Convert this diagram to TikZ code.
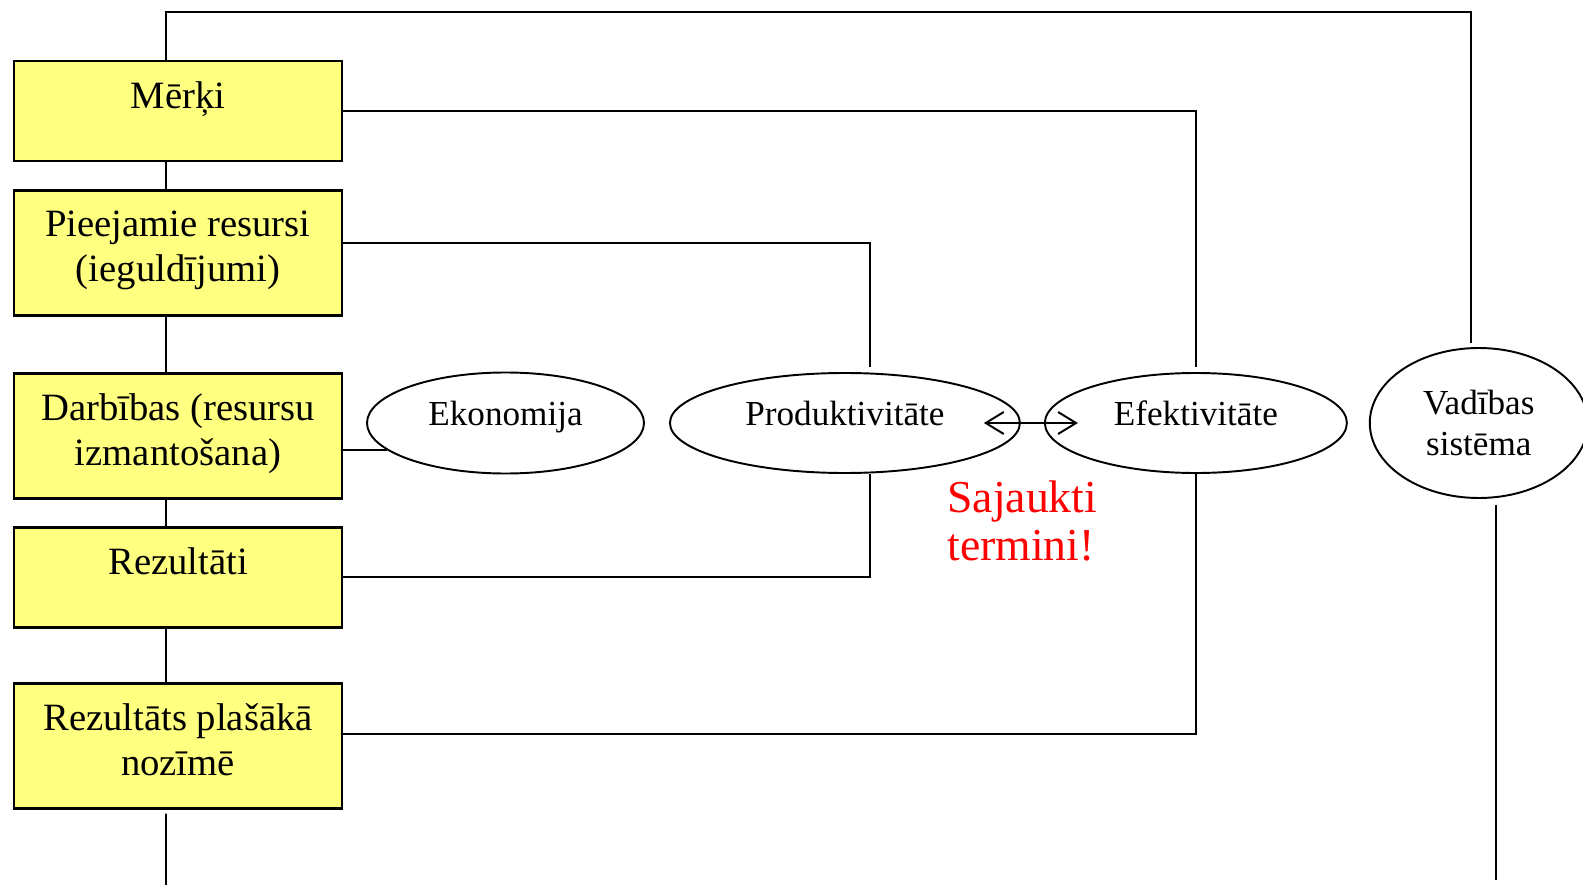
\documentclass[tikz,border=0pt]{standalone}
\usepackage{fontspec}
\setmainfont{Liberation Serif}
\usepackage{tikz}
\usetikzlibrary{shapes.geometric,arrows.meta,positioning}
\definecolor{boxyellow}{RGB}{255,255,128}
\tikzstyle{box} = [rectangle, minimum width=6.56cm, draw=black, line width=1.6pt, fill=boxyellow]
\tikzstyle{boxtext} = [anchor=north, yshift=-4.3mm, inner sep=0pt, align=center, font=\fontsize{22}{25.6}\selectfont]
\tikzstyle{oval} = [ellipse, minimum height=2cm, draw=black, line width=1.1pt, inner sep=1pt, align=center, font=\fontsize{20}{22.8}\selectfont]
\tikzstyle{oneline} = [text height=14pt, text depth=11.5pt]
\tikzstyle{link} = [line width=1.1pt]
\tikzstyle{dbl} = [line width=1.1pt, {Straight Barb[length=3.6mm,width=4.4mm]}-{Straight Barb[length=3.6mm,width=4.4mm]}]
\tikzstyle{warn} = [text=red, align=left, inner sep=0pt, font=\fontsize{26}{27.5}\selectfont]

\begin{document}
\begin{tikzpicture}
				\useasboundingbox (0,0) rectangle (31.66,-17.7);
				\node (merki) [box, minimum height=2cm, label={[boxtext]north:{Mērķi}}] at (3.56,-2.22) {};
				\node (pieejamie) [box, minimum height=2.5cm, below = 0.54cm of merki, label={[boxtext]north:{Pieejamie resursi\\(ieguldījumi)}}] {};
				\node (darbibas) [box, minimum height=2.5cm, below = 1.1cm of pieejamie, label={[boxtext]north:{Darbības (resursu\\izmantošana)}}] {};
				\node (rezultati) [box, minimum height=2cm, below = 0.52cm of darbibas, label={[boxtext]north:{Rezultāti}}] {};
				\node (rezultats) [box, minimum height=2.5cm, below = 1.06cm of rezultati, label={[boxtext]north:{Rezultāts plašākā\\nozīmē}}] {};

				\node (ekon) [oval, oneline, minimum width=5.54cm, minimum height=2.02cm] at (10.11,-8.46) {Ekonomija};
				\node (produkt) [oval, oneline, minimum width=7cm, right = 0.48cm of ekon] {Produktivitāte};
				\node (efekt) [oval, oneline, minimum width=6.04cm, right = 0.46cm of produkt] {Efektivitāte};
				\node (vadibas) [oval, minimum width=4.36cm, minimum height=3cm, right = 0.42cm of efekt] {Vadības\\sistēma};

				\node (sajaukti) [warn, anchor=north west] at (18.94,-9.6) {Sajaukti\\termini!};

				\coordinate (endL) at (3.32,-17.7);
				\coordinate (endR) at (29.98,-17.6);

				\draw [link] ([xshift=-2.4mm]merki.south) -- ([xshift=-2.4mm]pieejamie.north);
				\draw [link] ([xshift=-2.4mm]pieejamie.south) -- ([xshift=-2.4mm]darbibas.north);
				\draw [link] ([xshift=-2.4mm]darbibas.south) -- ([xshift=-2.4mm]rezultati.north);
				\draw [link] ([xshift=-2.4mm]rezultati.south) -- ([xshift=-2.4mm]rezultats.north);
				\draw [link] ([xshift=-2.4mm,yshift=-0.8mm]rezultats.south) -- (endL);

				\draw [link] ([xshift=-2.4mm]merki.north) -- ++(0,0.96) -| ([xshift=-1.6mm,yshift=0.8mm]vadibas.north);
				\draw [link] (merki.east) -| ([yshift=1mm]efekt.north);
				\draw [link] ([yshift=2.1mm]pieejamie.east) -| ([xshift=5mm,yshift=1mm]produkt.north);
				\draw [link] (darbibas.east |- ekon.193.7) -- (ekon.193.7);
				\draw [link] (rezultati.east) -| ([xshift=5mm]produkt.south);
				\draw [link] ([yshift=2.3mm]rezultats.east) -| (efekt.south);
				\draw [link] ([xshift=3.4mm,yshift=-1.2mm]vadibas.south) -- ([xshift=3.4mm]vadibas.south |- endR);
				\draw [dbl] ([xshift=-7.4mm]produkt.east) -- ([xshift=6.8mm]efekt.west);
			\end{tikzpicture}
\end{document}
